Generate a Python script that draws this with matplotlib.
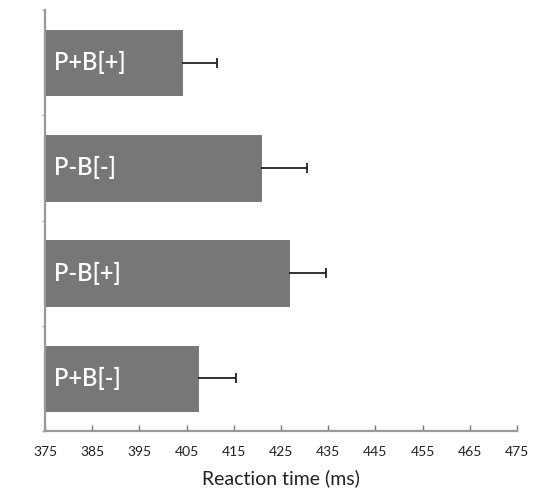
import matplotlib
matplotlib.use("Agg")
import matplotlib.pyplot as plt
import numpy as np

# Conditions listed bottom to top
conditions = ["P+B[-]", "P-B[+]", "P-B[-]", "P+B[+]"]
mean_rt = [407.4, 426.7, 420.8, 404.0]
err_rt = [8.1, 7.9, 9.7, 7.4]
x_ticks = [375, 385, 395, 405, 415, 425, 435, 445, 455, 465, 475]

plt.rcParams["font.family"] = ["Lato", "DejaVu Sans"]

fig = plt.figure(figsize=(5.39, 4.97), dpi=100)
ax = fig.add_axes([45 / 539, 66 / 497, 472 / 539, 421 / 497])

base = x_ticks[0]
pos = np.arange(len(conditions))
widths = [m - base for m in mean_rt]
ax.barh(pos, widths, left=base, height=0.62, color="#777777", edgecolor="#6e6e6e",
        linewidth=0.6, zorder=2)

# One-sided error bars: whisker from the bar end, cap only at the outer end
upper = [m + e for m, e in zip(mean_rt, err_rt)]
ax.hlines(pos, mean_rt, upper, color="#222222", linewidth=1.3, zorder=3)
ax.plot(upper, pos, linestyle="none", marker="|", markersize=7, markeredgewidth=1.3,
        color="#222222", zorder=3)

for p, name in zip(pos, conditions):
    ax.text(base + 2.0, p, name, color="white", fontsize=17, fontweight="semibold",
            va="center", ha="left", zorder=4)

ax.set_xlim(x_ticks[0], x_ticks[-1])
ax.set_ylim(-0.5, len(conditions) - 0.5)
ax.set_xticks(x_ticks)
ax.set_xticklabels([str(t) for t in x_ticks], fontsize=10, color="#222222")
ax.set_yticks(np.arange(-0.5, len(conditions), 1.0))
ax.set_yticklabels([])
ax.tick_params(axis="x", direction="in", length=4, width=1, color="#777777", pad=11)
ax.tick_params(axis="y", direction="out", length=2, width=1, color="#aaaaaa")
ax.set_xlabel("Reaction time (ms)", fontsize=14, color="#222222", labelpad=8)

for side in ["top", "right"]:
    ax.spines[side].set_visible(False)
for side in ["left", "bottom"]:
    ax.spines[side].set_color("#999999")
    ax.spines[side].set_linewidth(1.6)

fig.savefig("out.png", dpi=100)
